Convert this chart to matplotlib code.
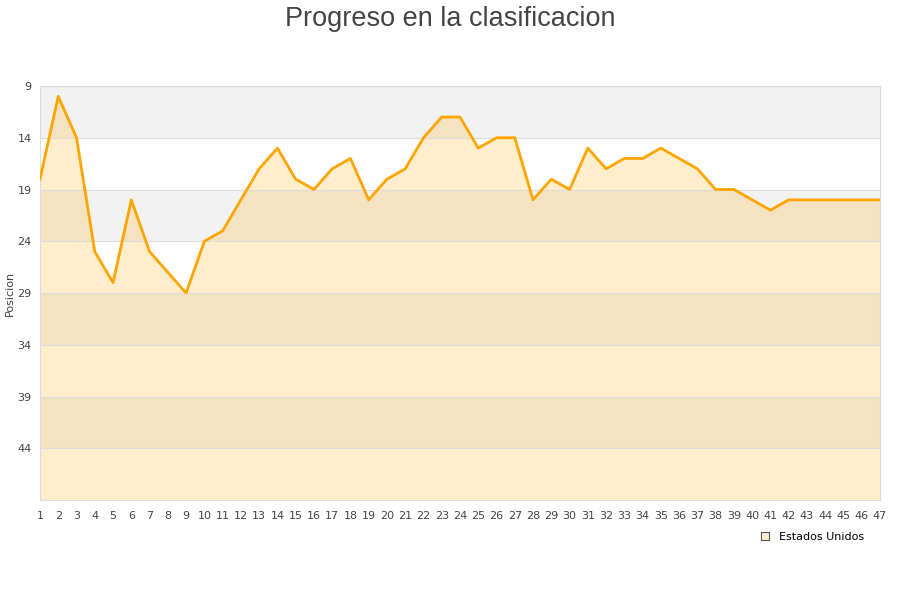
import matplotlib.pyplot as plt
import numpy as np
from matplotlib.lines import Line2D

jornadas = list(range(1, 48))
posicion = [18, 10, 14, 25, 28, 20, 25, 27, 29, 24,
            23, 20, 17, 15, 18, 19, 17, 16, 20, 18,
            17, 14, 12, 12, 15, 14, 14, 20, 18, 19,
            15, 17, 16, 16, 15, 16, 17, 19, 19, 20,
            21, 20, 20, 20, 20, 20, 20]
y_ticks = [9, 14, 19, 24, 29, 34, 39, 44]
equipo = "Estados Unidos"


def main():
    fig = plt.figure(figsize=(9, 6), dpi=100)
    ax = fig.add_axes([40 / 900, 1 - 500 / 600, 840 / 900, 414 / 600])

    y_min, y_max = 9, 49
    # alternating bands
    for i, lo in enumerate(range(y_min, y_max, 5)):
        if i % 2 == 0:
            ax.axhspan(lo, lo + 5, color="#f2f2f2", zorder=0, lw=0)

    ax.fill_between(jornadas, posicion, y_max, color="#ffa500", alpha=0.2, lw=0, zorder=1)
    ax.plot(jornadas, posicion, color="#ffa500", lw=2, zorder=3)

    ax.set_xlim(1, 47)
    ax.set_ylim(y_max, y_min)
    ax.set_xticks(jornadas)
    ax.set_yticks(y_ticks)
    ax.tick_params(axis="x", length=0, labelsize=8, colors="#444444", pad=8)
    ax.tick_params(axis="y", length=0, labelsize=8, colors="#444444", pad=6)
    ax.grid(axis="y", color="#dddddd", lw=0.8, zorder=2)
    ax.set_axisbelow(False)
    for s in ax.spines.values():
        s.set_color("#dddddd")
    ax.set_ylabel("Posicion", fontsize=8, color="#444444", labelpad=2)

    fig.suptitle("Progreso en la clasificacion", y=0.99, fontsize=19.5,
                 color="#444444", family="Liberation Sans")

    handle = Line2D([], [], marker="s", ls="", markersize=6,
                    markerfacecolor="#ffedcc", markeredgecolor="#555555", markeredgewidth=0.8)
    fig.legend([handle], [equipo], loc="center", bbox_to_anchor=(809 / 900, 1 - 537 / 600),
               frameon=False, fontsize=8, handletextpad=0.3)

    fig.savefig("out.png", dpi=100)


if __name__ == "__main__":
    main()
